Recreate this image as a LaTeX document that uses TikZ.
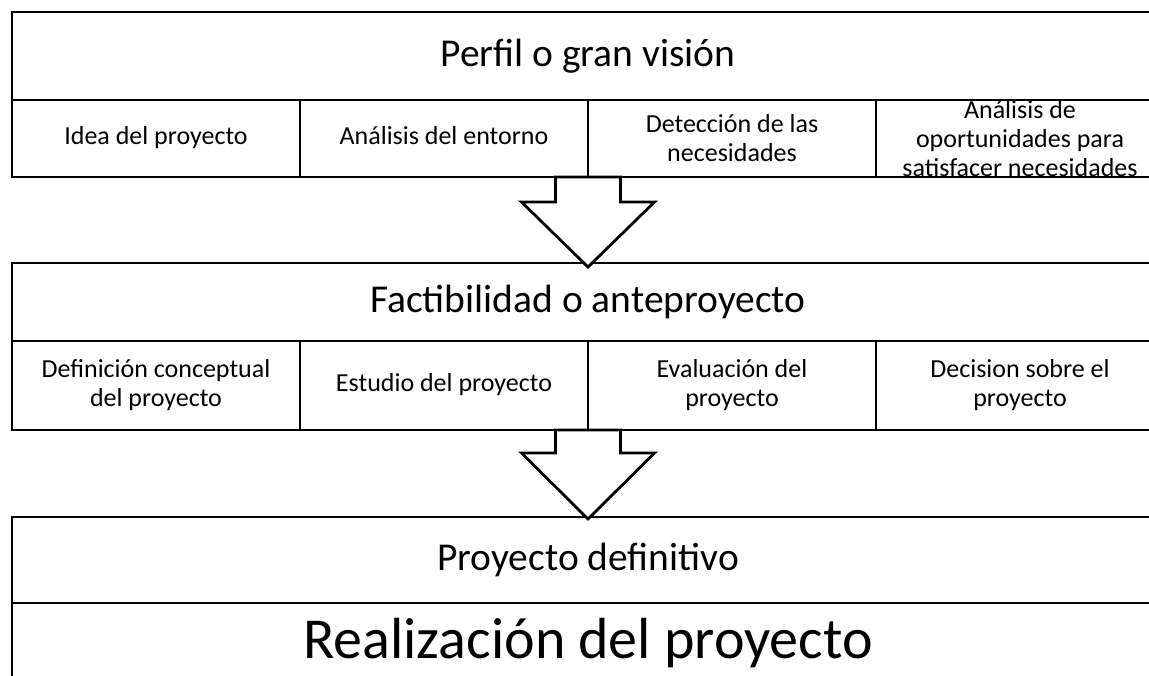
\documentclass[tikz,border=0pt]{standalone}
\usepackage{fontspec}
\setmainfont{Carlito}
\usetikzlibrary{positioning,calc}

\begin{document}
\begin{tikzpicture}[x=1pt,y=-1pt,node distance=0 cm,outer sep=0pt,inner sep=2pt]
        \tikzset{bigfield/.style={align=center,shape=rectangle,minimum width=1152pt,draw,line width=2.5pt,font=\fontsize{39.5}{44}\selectfont}}
        \tikzset{field/.style={align=center,shape=rectangle,minimum width=288pt,draw,line width=2.2pt,font=\fontsize{26}{29}\selectfont}}
        \tikzset{oneline/.style={text height=19pt,text depth=7pt}}
        \tikzset{bigarrow/.style={draw,line width=2.8pt,fill=white}}

        \useasboundingbox (0,0) rectangle (1149,675);

        % perfil
        \node [bigfield,minimum height=88pt,anchor=north west] (perfil) at (12,12) {Perfil o gran visión};
        \node [field,oneline,minimum height=77pt,anchor=north west] (idea) at (perfil.south west) {Idea del proyecto};
        \node [field,oneline,minimum height=77pt,right=of idea] (entorno) {Análisis del entorno};
        \node [field,minimum height=77pt,right=of entorno] (necesidades) {Detección de las\\necesidades};
        \node [field,minimum height=77pt,right=of necesidades,
               label={[align=center,font=\fontsize{26}{29}\selectfont]center:Análisis de\\oportunidades para\\satisfacer necesidades}] (oportunidades) {};

        % factibilidad
        \node [bigfield,minimum height=78pt,below=86pt of idea.south west,anchor=north west] (factibilidad) {Factibilidad o anteproyecto};
        \node [field,minimum height=89pt,anchor=north west] (definicion) at (factibilidad.south west) {Definición conceptual\\del proyecto};
        \node [field,oneline,minimum height=89pt,right=of definicion] (estudio) {Estudio del proyecto};
        \node [field,minimum height=89pt,right=of estudio] (evaluacion) {Evaluación del\\proyecto};
        \node [field,minimum height=89pt,right=of evaluacion] (decision) {Decision sobre el\\proyecto};

        % definitivo
        \node [bigfield,minimum height=86pt,below=87pt of definicion.south west,anchor=north west] (definitivo) {Proyecto definitivo};
        \node [bigfield,minimum height=81pt,below=of definitivo,font=\fontsize{58}{64}\selectfont] (realizacion) {Realización del proyecto};

        \draw[bigarrow] ($(entorno.south east)+(-32.5,0)$) -- ++(0,25) -- ++(-34,0) -- ([yshift=-4pt]factibilidad.north)
            -- ($(entorno.south east)+(66.5,25)$) -- ++(-34,0) -- ++(0,-25) -- cycle;
        \draw[bigarrow] ($(estudio.south east)+(-32.5,0)$) -- ++(0,23) -- ++(-34,0) -- ([yshift=-2pt]definitivo.north)
            -- ($(estudio.south east)+(66.5,23)$) -- ++(-34,0) -- ++(0,-23) -- cycle;

    \end{tikzpicture}
\end{document}
